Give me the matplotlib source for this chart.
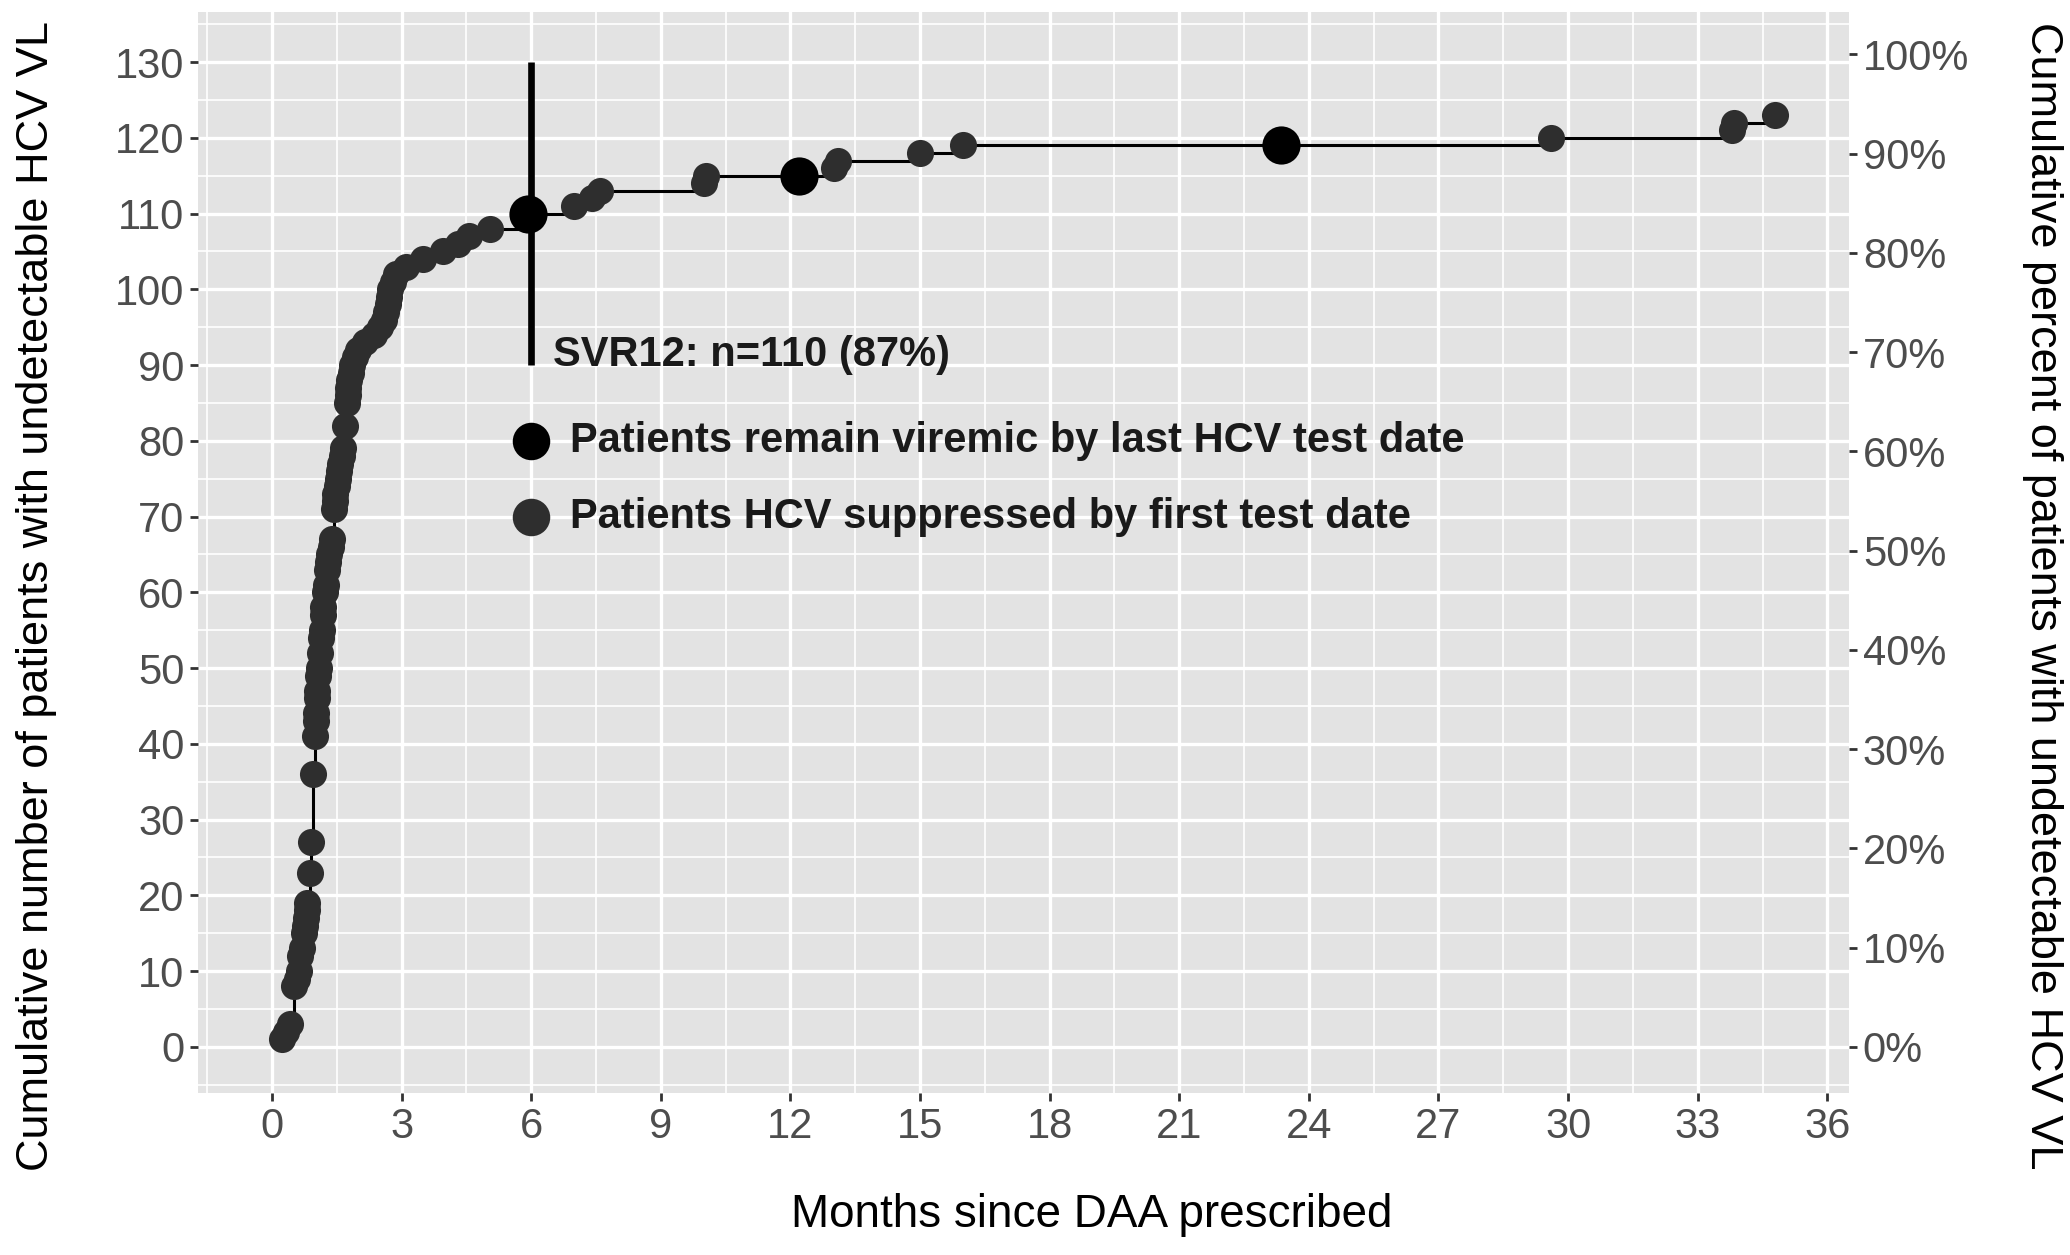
import numpy as np
import matplotlib
matplotlib.use("Agg")
from matplotlib import pyplot as plt

plt.rcParams['font.family'] = ['Liberation Sans', 'DejaVu Sans']

# suppressed patients: time of first undetectable test (months) and cumulative count
supp_months = [0.24, 0.32, 0.42, 0.52, 0.57, 0.62, 0.66, 0.70, 0.73, 0.76, 0.78, 0.80, 0.82,
               0.87, 0.90, 0.95, 1.00, 1.01, 1.02, 1.04, 1.05, 1.07, 1.09, 1.11, 1.13, 1.15,
               1.17, 1.19, 1.22, 1.24, 1.28, 1.30, 1.33, 1.36, 1.38, 1.43, 1.45, 1.47, 1.50,
               1.52, 1.55, 1.58, 1.62, 1.64, 1.70, 1.73, 1.75, 1.77, 1.79, 1.82, 1.86, 1.92,
               2.00, 2.15, 2.35, 2.50, 2.60, 2.65, 2.68, 2.70, 2.74, 2.80, 2.88, 3.10, 3.50,
               3.95, 4.30, 4.55, 5.05, 5.85, 7.00, 7.40, 7.60, 10.00, 10.05, 13.00, 13.10,
               15.00, 16.00, 29.60, 33.80, 33.85, 34.80]
supp_count = [1, 2, 3, 8, 9, 10, 12, 13, 15, 16, 17, 18, 19,
              23, 27, 36, 41, 43, 44, 46, 47, 49, 50, 52, 54, 55,
              57, 58, 60, 61, 63, 64, 65, 66, 67, 71, 72, 73, 74,
              75, 76, 77, 78, 79, 82, 85, 86, 87, 88, 89, 90, 91,
              92, 93, 94, 95, 96, 97, 98, 99, 100, 101, 102, 103, 104,
              105, 106, 107, 108, 110, 111, 112, 113, 114, 115, 116, 117,
              118, 119, 120, 121, 122, 123]

# patients still viremic at their last test date
vir_months = [5.92, 12.2, 23.35]
vir_count = [110, 115, 119]

pct_ticks = [0, 10, 20, 30, 40, 50, 60, 70, 80, 90, 100]
pct_scale = 1.31  # counts per percent on the secondary axis

svr_month = 6
svr_range = [90, 130]
svr_text = "SVR12: n=110 (87%)"
legend_labels = ["Patients remain viremic by last HCV test date",
                 "Patients HCV suppressed by first test date"]

fig = plt.figure(figsize=(20.7, 12.55), dpi=100)
ax = fig.add_axes([0.0957, 0.1291, 0.7975, 0.8613])
ax.set_facecolor('#E3E3E3')
for s in ax.spines.values():
    s.set_visible(False)

# step line through all points in time order
all_t = np.array(supp_months + vir_months)
all_c = np.array(supp_count + vir_count)
order = np.argsort(all_t, kind='stable')
ax.step(all_t[order], all_c[order], where='post', color='black', lw=2.2, zorder=3)

ax.plot(supp_months, supp_count, 'o', color='#2E2E2E', ms=19.5, mew=0, zorder=4)
ax.plot(vir_months, vir_count, 'o', color='black', ms=27.5, mew=0, zorder=5)

ax.vlines(svr_month, svr_range[0], svr_range[1], color='black', lw=4.8, zorder=6)
ax.text(6.5, 91.3, svr_text, fontsize=30, fontweight='bold', color='#1A1A1A',
        ha='left', va='center', zorder=7)

# annotated legend
ax.plot([6], [80], 'o', color='black', ms=27, mew=0, zorder=7)
ax.plot([6], [70], 'o', color='#2E2E2E', ms=27, mew=0, zorder=7)
ax.text(6.9, 80, legend_labels[0], fontsize=30, fontweight='bold', color='#1A1A1A',
        ha='left', va='center', zorder=7)
ax.text(6.9, 70, legend_labels[1], fontsize=30, fontweight='bold', color='#1A1A1A',
        ha='left', va='center', zorder=7)

ax.set_xlim(-1.71, 36.5)
ax.set_ylim(-6.1, 136.6)
ax.set_xticks(np.arange(0, 37, 3))
ax.set_yticks(np.arange(0, 131, 10))
ax.set_xticks(np.arange(-1.5, 37, 3), minor=True)
ax.set_yticks(np.arange(-5, 137, 10), minor=True)
ax.grid(which='major', color='white', lw=2.4)
ax.grid(which='minor', color='white', lw=1.2)
ax.set_axisbelow(True)
ax.tick_params(which='major', length=6, width=2, color='#333333', labelsize=30,
               labelcolor='#4D4D4D', pad=4)
ax.tick_params(which='minor', length=0)

ax2 = ax.twinx()
ax2.set_ylim(ax.get_ylim())
ax2.set_yticks([p * pct_scale for p in pct_ticks])
ax2.set_yticklabels([f"{p}%" for p in pct_ticks])
ax2.tick_params(length=6, width=2, color='#333333', labelsize=30,
                labelcolor='#4D4D4D', pad=4)
for s in ax2.spines.values():
    s.set_visible(False)

fig.text(0.5273, 0.032, "Months since DAA prescribed", fontsize=33,
         ha='center', va='center')
fig.text(0.0174, 0.525, "Cumulative number of patients with undetectable HCV VL",
         fontsize=32.5, rotation=90, ha='center', va='center')
fig.text(0.9865, 0.525, "Cumulative percent of patients with undetectable HCV VL",
         fontsize=32.5, rotation=270, ha='center', va='center')

fig.savefig('out.png', dpi=100)
